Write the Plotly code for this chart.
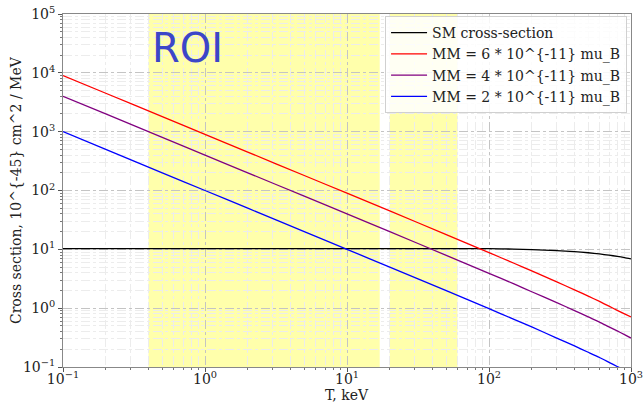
import plotly.graph_objects as go

# ---- data ----
T_keV = [0.1, 0.2, 0.5, 1, 2, 5, 10, 20, 50, 100, 150, 200, 300, 400, 500, 600, 700, 800, 900, 1000]
sm_xs = [10.3, 10.3, 10.3, 10.3, 10.3, 10.3, 10.3, 10.3, 10.3, 10.25, 10.1, 9.9, 9.5, 9.15, 8.75, 8.35, 7.95, 7.6, 7.25, 6.9]
mm6_xs = [9000, 4500, 1800, 900, 450, 180, 90, 45, 17.8, 8.8, 5.8, 4.3, 2.8, 2.05, 1.6, 1.3, 1.08, 0.92, 0.8, 0.71]
mm4_xs = [4000, 2000, 800, 400, 200, 80, 40, 20, 7.9, 3.9, 2.58, 1.9, 1.24, 0.91, 0.71, 0.58, 0.48, 0.41, 0.355, 0.31]
mm2_xs = [1000, 500, 200, 100, 50, 20, 10, 5, 1.98, 0.98, 0.645, 0.48, 0.31, 0.228, 0.178, 0.145, 0.12, 0.102, 0.089, 0.078]
series_names = ["SM cross-section", "MM = 6 * 10^{-11} mu_B", "MM = 4 * 10^{-11} mu_B", "MM = 2 * 10^{-11} mu_B"]
series_colors = ["black", "red", "purple", "blue"]
roi_bands = [(0.4, 17), (20, 60)]
x_tickvals = [0.1, 1, 10, 100, 1000]
x_ticktext = ["10<sup>−1</sup>", "10<sup>0</sup>", "10<sup>1</sup>", "10<sup>2</sup>", "10<sup>3</sup>"]
y_tickvals = [0.1, 1, 10, 100, 1000, 10000, 100000]
y_ticktext = ["10<sup>−1</sup>", "10<sup>0</sup>", "10<sup>1</sup>", "10<sup>2</sup>", "10<sup>3</sup>", "10<sup>4</sup>", "10<sup>5</sup>"]
minor_mult = [2, 3, 4, 5, 6, 7, 8, 9]
x_title = "T, keV"
y_title = "Cross section, 10^{-45} cm^2 / MeV"

x_minor = [m * d for d in x_tickvals[:-1] for m in minor_mult]
y_minor = [m * d for d in y_tickvals[:-1] for m in minor_mult]

serif = "DejaVu Serif"
txt_col = "#222222"

fig = go.Figure()
for name, ys, col in zip(series_names, [sm_xs, mm6_xs, mm4_xs, mm2_xs], series_colors):
    fig.add_trace(go.Scatter(x=T_keV, y=ys, mode="lines", name=name,
                             line=dict(color=col, width=1.3, shape="spline", smoothing=0.6)))

for x0, x1 in roi_bands:
    fig.add_shape(type="rect", xref="x", yref="paper", x0=x0, x1=x1, y0=0, y1=1,
                  fillcolor="rgba(255,255,0,0.33)", line_width=0, layer="below")

fig.add_annotation(text="ROI", xref="x", yref="y", x=-0.39, y=4.43,
                   xanchor="left", yanchor="middle", showarrow=False,
                   font=dict(family="DejaVu Sans", size=40, color="#3c46c8"))

# axis titles as annotations (fixed placement)
fig.add_annotation(text=x_title, xref="paper", yref="paper", x=0.5, y=-0.05,
                   xanchor="center", yanchor="top", showarrow=False,
                   font=dict(family=serif, size=14, color=txt_col))
fig.add_annotation(text=y_title, xref="paper", yref="paper", x=-0.0835, y=0.5,
                   xanchor="center", yanchor="middle", textangle=-90, showarrow=False,
                   font=dict(family=serif, size=14, color=txt_col))


def axis_common(minor_vals):
    return dict(
        type="log", showline=True, linecolor="#888888", linewidth=1, mirror=True,
        ticks="outside", ticklen=4, tickcolor="#555555",
        showgrid=True, gridcolor="#c4c4c4", griddash="dashdot", gridwidth=1,
        minor=dict(tickmode="array", tickvals=minor_vals, showgrid=True,
                   gridcolor="#ececec", gridwidth=1, ticks="outside",
                   ticklen=2, tickcolor="#777777"),
        tickfont=dict(family=serif, size=14, color=txt_col),
        zeroline=False, automargin=False,
    )


fig.update_xaxes(**axis_common(x_minor), range=[-1, 3], tickmode="array",
                 tickvals=x_tickvals, ticktext=x_ticktext, ticklabelstandoff=-5)
fig.update_yaxes(**axis_common(y_minor), range=[-1, 5], tickmode="array",
                 tickvals=y_tickvals, ticktext=y_ticktext)

fig.update_layout(
    width=644, height=404,
    margin=dict(l=63, r=13, t=14, b=37, autoexpand=False),
    plot_bgcolor="white", paper_bgcolor="white",
    legend=dict(x=0.567, y=0.994, xanchor="left", yanchor="top", itemwidth=36,
                bgcolor="rgba(255,255,255,0.85)", bordercolor="#d0d0d0", borderwidth=1,
                font=dict(family=serif, size=14, color=txt_col), tracegroupgap=0),
    showlegend=True,
)

fig.write_html("out.html")
